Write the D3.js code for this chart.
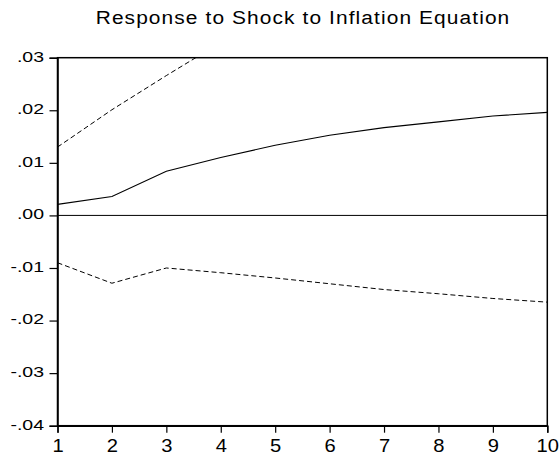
<!DOCTYPE html>
<html><head><meta charset="utf-8">
<script src="https://cdn.jsdelivr.net/npm/d3@7"></script>
<style>html,body{margin:0;padding:0;background:#fff;}svg{display:block;}</style>
</head><body>
<script>
const title = "Response to Shock to Inflation Equation";
const periods = [1,2,3,4,5,6,7,8,9,10];
const response = [0.0021,0.0036,0.0084,0.0110,0.01335,0.01525,0.0167,0.0178,0.0189,0.0196];
const upperBand = [0.0130,0.0201,0.0266,0.0329,0.0386,0.0435,0.0475,0.0505,0.0536,0.0557];
const lowerBand = [-0.0090,-0.0129,-0.0100,-0.0109,-0.0119,-0.0130,-0.0141,-0.0149,-0.0158,-0.0165];
const yTicks = [0.03,0.02,0.01,0.00,-0.01,-0.02,-0.03,-0.04];
const yTickLabels = [".03",".02",".01",".00","-.01","-.02","-.03","-.04"];

const W = 559, H = 459;
const m = {left:57.5, right:559-547.3, top:57.7, bottom:459-425.7};
const svg = d3.select("body").append("svg").attr("width",W).attr("height",H);
const x = d3.scaleLinear().domain([1,10]).range([m.left, W-m.right]);
const y = d3.scaleLinear().domain([-0.04,0.03]).range([H-m.bottom, m.top]);
const font = "'Liberation Sans', Arial, sans-serif";

svg.append("text").attr("text-anchor","middle")
  .attr("transform","translate(303,24.3) scale(1.1,1)")
  .attr("font-family",font).attr("font-size",19).attr("letter-spacing",1).attr("fill","#000").text(title);

svg.append("defs").append("clipPath").attr("id","clip").append("rect")
  .attr("x",x(1)).attr("y",y(0.03)).attr("width",x(10)-x(1)).attr("height",y(-0.04)-y(0.03));

// zero line
svg.append("line").attr("x1",x(1)).attr("x2",x(10)).attr("y1",y(0)).attr("y2",y(0))
  .attr("stroke","#000").attr("stroke-width",1);

const line = d3.line().x((d,i)=>x(periods[i])).y(d=>y(d));
const g = svg.append("g").attr("clip-path","url(#clip)");
g.append("path").attr("d",line(response)).attr("fill","none").attr("stroke","#000").attr("stroke-width",1.1);
g.append("path").attr("d",line(upperBand)).attr("fill","none").attr("stroke","#000").attr("stroke-width",1).attr("stroke-dasharray","5,3");
g.append("path").attr("d",line(lowerBand)).attr("fill","none").attr("stroke","#000").attr("stroke-width",1).attr("stroke-dasharray","5,3");

// frame
svg.append("rect").attr("x",x(1)).attr("y",y(0.03)).attr("width",x(10)-x(1)).attr("height",y(-0.04)-y(0.03))
  .attr("fill","none").attr("stroke","#000").attr("stroke-width",1.5);

const yAxis = d3.axisLeft(y).tickValues(yTicks).tickFormat((d,i)=>yTickLabels[i]).tickSize(8);
const ya = svg.append("g").attr("transform",`translate(${x(1)},0)`).call(yAxis);
const xAxis = d3.axisBottom(x).tickValues(periods).tickFormat(d3.format("d")).tickSize(7);
const xa = svg.append("g").attr("transform",`translate(0,${y(-0.04)})`).call(xAxis);
[ya,xa].forEach(a=>{
  a.select(".domain").attr("stroke","#000").attr("stroke-width",1.5);
  a.selectAll(".tick line").attr("stroke","#000").attr("stroke-width",1.2);
  a.selectAll(".tick text").attr("font-family",font).attr("fill","#000");
});
ya.selectAll(".tick text").attr("x",null).attr("dy",null).attr("font-size",15)
  .attr("transform","translate(-13.5,3.3) scale(1.3,1)");
xa.selectAll(".tick text").attr("y",null).attr("dy",null).attr("font-size",18)
  .attr("transform","translate(0,26.3) scale(1.12,1)");
</script>
</body></html>
